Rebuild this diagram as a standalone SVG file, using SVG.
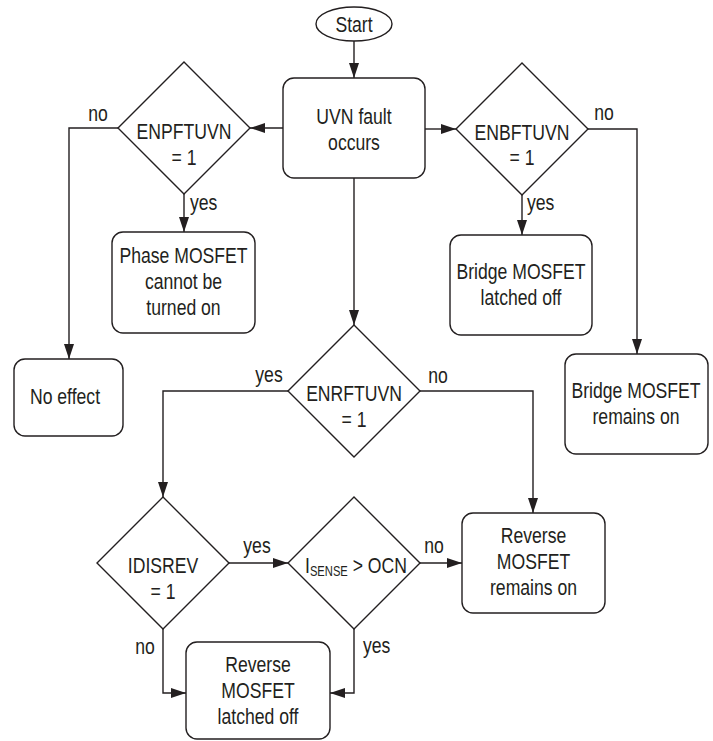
<svg xmlns="http://www.w3.org/2000/svg" width="713" height="741" viewBox="0 0 713 741">
<defs>
<marker id="arr" markerUnits="userSpaceOnUse" markerWidth="16" markerHeight="11" refX="15" refY="5" orient="auto">
<path d="M0,0 L15,5 L0,10 z" fill="#231f20"/>
</marker>
<style>
.s{fill:#fff;stroke:#231f20;stroke-width:1.4}
.c{fill:none;stroke:#231f20;stroke-width:1.4;marker-end:url(#arr)}
.t{font-family:"Liberation Sans",Arial,sans-serif;font-size:22px;fill:#231f20;text-anchor:middle}
.l{font-family:"Liberation Sans",Arial,sans-serif;font-size:22px;fill:#231f20;text-anchor:start}
</style>
</defs>
<rect width="713" height="741" fill="#fff"/>
<g id="connectors">
<path class="c" d="M354,41 V78"/>
<path class="c" d="M283,128 H250"/>
<path class="c" d="M425,129 H456"/>
<path class="c" d="M354,178 V325"/>
<path class="c" d="M184,194 V232"/>
<path class="c" d="M118,128 H69 V359"/>
<path class="c" d="M522,195 V235"/>
<path class="c" d="M588,129 H637 V354"/>
<path class="c" d="M288,391 H163 V497"/>
<path class="c" d="M420,391 H533 V513"/>
<path class="c" d="M229,563 H288"/>
<path class="c" d="M163,629 V693 H186"/>
<path class="c" d="M420,563 H462"/>
<path class="c" d="M354,629 V693 H330"/>
<g id="labels">
<text class="t" transform="translate(98,0) scale(0.8,1)" y="121">no</text>
<text class="l" transform="translate(190,0) scale(0.8,1)" y="210">yes</text>
<text class="t" transform="translate(604,0) scale(0.8,1)" y="120">no</text>
<text class="l" transform="translate(527,0) scale(0.8,1)" y="210">yes</text>
<text class="t" transform="translate(269,0) scale(0.8,1)" y="382">yes</text>
<text class="t" transform="translate(438,0) scale(0.8,1)" y="383">no</text>
<text class="t" transform="translate(257,0) scale(0.8,1)" y="553">yes</text>
<text class="t" transform="translate(434,0) scale(0.8,1)" y="553">no</text>
<text class="t" transform="translate(145,0) scale(0.8,1)" y="654">no</text>
<text class="l" transform="translate(363,0) scale(0.8,1)" y="653">yes</text>
</g>
</g>
<g id="start">
<ellipse class="s" cx="354" cy="24" rx="38" ry="17"/>
<text class="t" transform="translate(354,0) scale(0.8,1)" y="32">Start</text>
</g>
<g id="uvn">
<rect class="s" x="283" y="78" width="142" height="100" rx="11"/>
<text class="t" transform="translate(354,0) scale(0.8,1)"><tspan x="0" y="124">UVN fault</tspan><tspan x="0" y="150">occurs</tspan></text>
</g>
<g id="enpftuvn">
<polygon class="s" points="184,62 250,128 184,194 118,128"/>
<text class="t" transform="translate(184,0) scale(0.8,1)"><tspan x="0" y="139">ENPFTUVN</tspan><tspan x="0" y="165">= 1</tspan></text>
</g>
<g id="enbftuvn">
<polygon class="s" points="522,63 588,129 522,195 456,129"/>
<text class="t" transform="translate(522,0) scale(0.8,1)"><tspan x="0" y="140">ENBFTUVN</tspan><tspan x="0" y="165">= 1</tspan></text>
</g>
<g id="phase">
<rect class="s" x="112" y="232" width="143" height="101" rx="11"/>
<text class="t" transform="translate(183.5,0) scale(0.8,1)"><tspan x="0" y="263">Phase MOSFET</tspan><tspan x="0" y="289">cannot be</tspan><tspan x="0" y="315">turned on</tspan></text>
</g>
<g id="bridge-off">
<rect class="s" x="450" y="235" width="142" height="100" rx="11"/>
<text class="t" transform="translate(521,0) scale(0.8,1)"><tspan x="0" y="279">Bridge MOSFET</tspan><tspan x="0" y="305">latched off</tspan></text>
</g>
<g id="no-effect">
<rect class="s" x="14" y="359" width="109" height="77" rx="11"/>
<text class="t" transform="translate(65,0) scale(0.8,1)" y="404">No effect</text>
</g>
<g id="bridge-on">
<rect class="s" x="565" y="354" width="143" height="100" rx="11"/>
<text class="t" transform="translate(636,0) scale(0.8,1)"><tspan x="0" y="398">Bridge MOSFET</tspan><tspan x="0" y="424">remains on</tspan></text>
</g>
<g id="enrftuvn">
<polygon class="s" points="354,325 420,391 354,457 288,391"/>
<text class="t" transform="translate(354,0) scale(0.8,1)"><tspan x="0" y="401">ENRFTUVN</tspan><tspan x="0" y="427">= 1</tspan></text>
</g>
<g id="idisrev">
<polygon class="s" points="163,497 229,563 163,629 97,563"/>
<text class="t" transform="translate(163,0) scale(0.8,1)"><tspan x="0" y="573">IDISREV</tspan><tspan x="0" y="599">= 1</tspan></text>
</g>
<g id="isense">
<polygon class="s" points="354,497 420,563 354,629 288,563"/>
<text class="l" transform="translate(305,0) scale(0.8,1)" y="573">I<tspan font-size="14" dy="3">SENSE</tspan><tspan dy="-3"> &gt; OCN</tspan></text>
</g>
<g id="reverse-on">
<rect class="s" x="462" y="513" width="143" height="100" rx="11"/>
<text class="t" transform="translate(533.5,0) scale(0.8,1)"><tspan x="0" y="543">Reverse</tspan><tspan x="0" y="569">MOSFET</tspan><tspan x="0" y="595">remains on</tspan></text>
</g>
<g id="reverse-off">
<rect class="s" x="186" y="642" width="144" height="97" rx="11"/>
<text class="t" transform="translate(258,0) scale(0.8,1)"><tspan x="0" y="672">Reverse</tspan><tspan x="0" y="698">MOSFET</tspan><tspan x="0" y="724">latched off</tspan></text>
</g>
</svg>
